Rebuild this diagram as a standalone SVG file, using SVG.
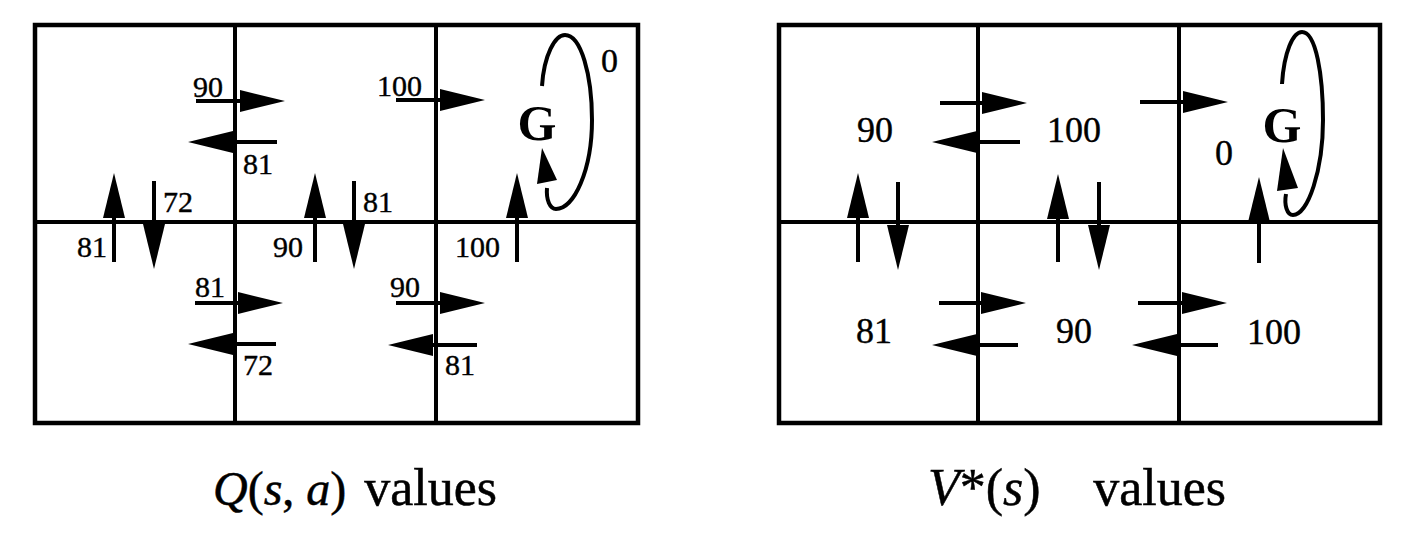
<svg xmlns="http://www.w3.org/2000/svg" width="1418" height="551" viewBox="0 0 1418 551">
  <style>
    .grid { fill: none; stroke: #000; stroke-width: 4.5; }
    .div { stroke: #000; stroke-width: 4; }
    .arr { stroke: #000; stroke-width: 4; fill: none; marker-end: url(#head); }
    .loop { stroke: #000; stroke-width: 4; fill: none; }
    .hd { fill: #000; }
    .q { font-family: "Liberation Serif", "Times New Roman", serif; font-size: 30px; fill: #000; stroke: #000; stroke-width: 0.4; }
    .v { font-family: "Liberation Serif", "Times New Roman", serif; font-size: 36px; fill: #000; stroke: #000; stroke-width: 0.4; }
    .g { font-family: "Liberation Serif", "Times New Roman", serif; font-size: 50px; font-weight: bold; fill: #000; text-anchor: middle; }
    .cap { font-family: "Liberation Serif", "Times New Roman", serif; font-size: 52px; fill: #000; stroke: #000; stroke-width: 0.5; }
    .it { font-style: italic; }
  </style>
  <defs>
    <marker id="head" markerUnits="userSpaceOnUse" markerWidth="46" markerHeight="22" refX="15" refY="11" orient="auto" overflow="visible">
      <path d="M0,0 L45,11 L0,22 z" fill="#000"/>
    </marker>
  </defs>
  <rect width="1418" height="551" fill="#fff"/>

  <!-- Left grid: Q(s,a) -->
  <g id="q-grid">
    <rect class="grid" x="35" y="25" width="603" height="398"/>
    <line class="div" x1="235" y1="25" x2="235" y2="423"/>
    <line class="div" x1="436" y1="25" x2="436" y2="423"/>
    <line class="div" x1="35" y1="222" x2="638" y2="222"/>
  </g>
  <g id="q-goal">
    <text class="g" x="537" y="140">G</text>
    <path class="loop" d="M542,86 C544,55 555,35 565,35 C581,35 592,75 592,120 C592,170 574,209 556,209 C550,209 546,200 547,188"/>
    <polygon class="hd" points="542,148 537,184 557,180"/>
    <text class="q" x="601" y="72" style="font-size:34px">0</text>
  </g>
  <g id="q-connectors">
    <line class="arr" x1="196" y1="101" x2="255" y2="101"/>
    <line class="arr" x1="277" y1="142" x2="218" y2="142"/>
    <line class="arr" x1="396" y1="100" x2="455" y2="100"/>
    <line class="arr" x1="114" y1="262" x2="114" y2="203"/>
    <line class="arr" x1="154" y1="181" x2="154" y2="239"/>
    <line class="arr" x1="315" y1="262" x2="315" y2="203"/>
    <line class="arr" x1="354" y1="181" x2="354" y2="239"/>
    <line class="arr" x1="517" y1="262" x2="517" y2="203"/>
    <line class="arr" x1="195" y1="303" x2="253" y2="303"/>
    <line class="arr" x1="276" y1="344" x2="218" y2="344"/>
    <line class="arr" x1="396" y1="303" x2="455" y2="303"/>
    <line class="arr" x1="477" y1="345" x2="418" y2="345"/>
  </g>
  <g id="q-labels">
    <text class="q" x="193" y="97">90</text>
    <text class="q" x="243" y="174">81</text>
    <text class="q" x="377" y="96">100</text>
    <text class="q" x="77" y="257">81</text>
    <text class="q" x="163" y="212">72</text>
    <text class="q" x="273" y="257">90</text>
    <text class="q" x="363" y="212">81</text>
    <text class="q" x="455" y="257">100</text>
    <text class="q" x="195" y="297">81</text>
    <text class="q" x="243" y="375">72</text>
    <text class="q" x="390" y="297">90</text>
    <text class="q" x="445" y="375">81</text>
  </g>

  <!-- Right grid: V*(s) -->
  <g id="v-grid">
    <rect class="grid" x="779" y="25" width="601" height="398"/>
    <line class="div" x1="978" y1="25" x2="978" y2="423"/>
    <line class="div" x1="1179" y1="25" x2="1179" y2="423"/>
    <line class="div" x1="779" y1="222" x2="1380" y2="222"/>
  </g>
  <g id="v-goal">
    <text class="g" x="1282" y="142">G</text>
    <path class="loop" d="M1282,84 C1284,52 1293,32 1302,32 C1316,32 1323,75 1323,120 C1323,170 1308,215 1293,215 C1287,215 1284,205 1286,194"/>
    <polygon class="hd" points="1283,148 1277,191 1298,188"/>
    <text class="v" x="1215" y="165">0</text>
  </g>
  <g id="v-connectors">
    <line class="arr" x1="940" y1="103" x2="997" y2="103"/>
    <line class="arr" x1="1020" y1="142" x2="962" y2="142"/>
    <line class="arr" x1="1140" y1="102" x2="1198" y2="102"/>
    <line class="arr" x1="858" y1="262" x2="858" y2="203"/>
    <line class="arr" x1="898" y1="182" x2="898" y2="240"/>
    <line class="arr" x1="1058" y1="262" x2="1058" y2="204"/>
    <line class="arr" x1="1099" y1="182" x2="1099" y2="240"/>
    <line class="arr" x1="1259" y1="263" x2="1259" y2="207"/>
    <line class="arr" x1="939" y1="303" x2="996" y2="303"/>
    <line class="arr" x1="1018" y1="345" x2="962" y2="345"/>
    <line class="arr" x1="1138" y1="303" x2="1197" y2="303"/>
    <line class="arr" x1="1218" y1="345" x2="1162" y2="345"/>
  </g>
  <g id="v-labels">
    <text class="v" x="857" y="142">90</text>
    <text class="v" x="1047" y="142">100</text>
    <text class="v" x="856" y="343">81</text>
    <text class="v" x="1056" y="343">90</text>
    <text class="v" x="1247" y="344">100</text>
  </g>

  <!-- Captions -->
  <g id="caption-q">
    <text class="cap" x="213" y="505" style="font-size:48px"><tspan class="it">Q</tspan>(<tspan class="it">s</tspan>, <tspan class="it">a</tspan>)</text>
    <text class="cap" x="497" y="505" text-anchor="end">values</text>
  </g>
  <g id="caption-v">
    <text class="cap" x="928" y="505"><tspan class="it">V</tspan>*(<tspan class="it">s</tspan>)</text>
    <text class="cap" x="1226" y="505" text-anchor="end">values</text>
  </g>
</svg>
